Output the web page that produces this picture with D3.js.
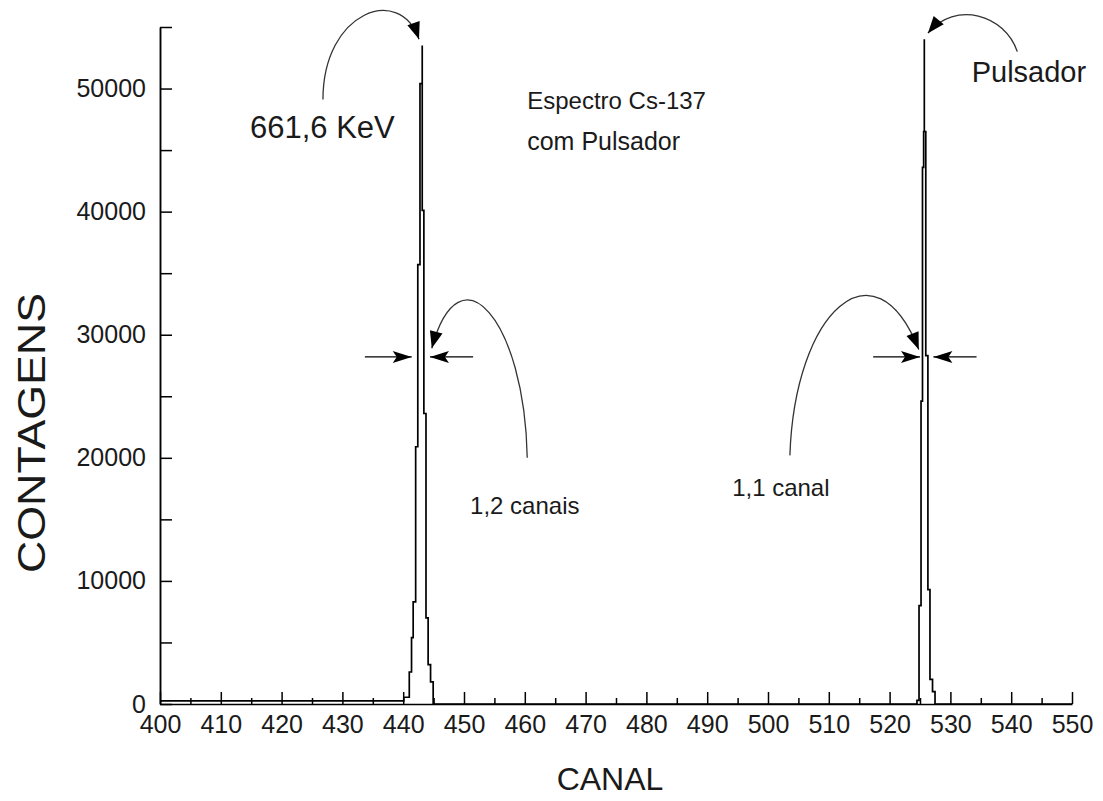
<!DOCTYPE html>
<meta charset="utf-8">
<head>
	<title>Espectro Cs-137 com Pulsador</title>
</head>

<style>
	body { margin: 0; background: #fff; }
	svg text { font-family: "Liberation Sans", Arial, sans-serif; fill: #1a1a1a; }
	.axis path, .axis line { stroke: #000; stroke-width: 1.5; }
	.axis text { font-size: 25px; }
</style>

<body>
	<svg width="1103" height="801"></svg>

	<script src="https://d3js.org/d3.v7.min.js"></script>
	<script>
// channel ticks and count ticks
var xTicks = [400, 410, 420, 430, 440, 450, 460, 470, 480, 490, 500, 510, 520, 530, 540, 550];
var xMinor = [405, 415, 425, 435, 445, 455, 465, 475, 485, 495, 505, 515, 525, 535, 545];
var yTicks = [0, 10000, 20000, 30000, 40000, 50000];
var yMinor = [5000, 15000, 25000, 35000, 45000, 55000];

// spectrum drawn as steps: each count holds from its channel to the next one
var canal = [400, 440.1, 441.0, 441.37, 441.64, 442.05, 442.4, 442.76, 443.13, 443.13, 443.4, 443.75, 444.1, 444.5, 444.93,
	524.5, 524.84, 525.17, 525.41, 525.6, 525.71, 525.71, 525.95, 526.3, 526.64, 527.06, 527.47, 550];
var contagens = [250, 550, 2600, 5400, 8300, 20900, 35700, 50400, 53500, 40100, 23600, 7000, 3200, 1800, 0,
	300, 8000, 24600, 43600, 46500, 54000, 46500, 28300, 9300, 2000, 1000, 0, 0];

var width = 1103, height = 801;
var margin = {left: 160, right: 31, top: 27, bottom: 97};

var svg = d3.select('svg');

var x = d3.scaleLinear().domain([400, 550]).range([margin.left, width - margin.right]);
var y = d3.scaleLinear().domain([0, 55000]).range([height - margin.bottom, margin.top]);

// arrow heads
var defs = svg.append('defs');
defs.append('marker')
	.attr('id', 'head')
	.attr('markerUnits', 'userSpaceOnUse')
	.attr('markerWidth', 40).attr('markerHeight', 40)
	.attr('orient', 'auto')
	.attr('style', 'overflow:visible')
  .append('path')
	.attr('d', 'M0,0 L-17,-6.5 L-17,6.5 Z')
	.attr('fill', '#000');
defs.append('marker')
	.attr('id', 'flat')
	.attr('markerUnits', 'userSpaceOnUse')
	.attr('markerWidth', 40).attr('markerHeight', 40)
	.attr('orient', 'auto')
	.attr('style', 'overflow:visible')
  .append('path')
	.attr('d', 'M0,0 L-19,-6 L-15,0 L-19,6 Z')
	.attr('fill', '#000');

// axes, ticks pointing inwards
svg.append('g')
	.attr('class', 'axis')
	.attr('transform', 'translate(0,' + y(0) + ')')
	.call(d3.axisBottom(x).tickValues(xTicks).tickSizeInner(-12).tickSizeOuter(0).tickPadding(11).tickFormat(d3.format('d')));
svg.append('g')
	.attr('class', 'axis')
	.attr('transform', 'translate(0,' + y(0) + ')')
	.call(d3.axisBottom(x).tickValues(xMinor).tickSizeInner(-6).tickSizeOuter(0).tickFormat(''))
	.select('.domain').remove();

svg.append('g')
	.attr('class', 'axis')
	.attr('transform', 'translate(' + x(400) + ',0)')
	.call(d3.axisLeft(y).tickValues(yTicks).tickSizeInner(-12).tickSizeOuter(0).tickPadding(14).tickFormat(d3.format('d')));
svg.append('g')
	.attr('class', 'axis')
	.attr('transform', 'translate(' + x(400) + ',0)')
	.call(d3.axisLeft(y).tickValues(yMinor).tickSizeInner(-12).tickSizeOuter(0).tickFormat(''));

// axis titles
svg.append('text')
	.attr('x', 610)
	.attr('y', 790)
	.attr('text-anchor', 'middle')
	.style('font-size', '32px')
	.text('CANAL');
svg.append('text')
	.attr('transform', 'translate(45,433) rotate(-90)')
	.attr('text-anchor', 'middle')
	.attr('textLength', 280)
	.attr('lengthAdjust', 'spacingAndGlyphs')
	.style('font-size', '38px')
	.text('CONTAGENS');

// spectrum
var pts = canal.map(function(c, i) {return [c, contagens[i]];});
svg.append('path')
	.datum(pts)
	.attr('fill', 'none')
	.attr('stroke', '#000')
	.attr('stroke-width', 1.7)
	.attr('d', d3.line()
		.x(function(d) {return x(d[0]);})
		.y(function(d) {return y(d[1]);})
		.curve(d3.curveStepAfter));

// annotations, placed in (channel, counts)
var curvas = [
	[[426.8, 49100], [426.8, 56300], [439.5, 58500], [442.6, 54000]],
	[[541.0, 53000], [539.0, 56000], [530.8, 57200], [526.3, 54500]],
	[[460.4, 20000], [460.0, 31200], [449.3, 37300], [444.7, 28900]],
	[[503.6, 20200], [504.4, 32000], [517.6, 37800], [524.8, 28800]]
];
curvas.forEach(function(c) {
	var p = c.map(function(d) {return [x(d[0]), y(d[1])];});
	svg.append('path')
		.attr('d', 'M' + p[0] + 'C' + p[1] + ' ' + p[2] + ' ' + p[3])
		.attr('fill', 'none')
		.attr('stroke', '#333')
		.attr('stroke-width', 1.3)
		.attr('marker-end', 'url(#head)');
});

var largura = [
	[433.7, 441.4], [451.5, 444.4],
	[517.3, 525.0], [534.3, 527.2]
];
largura.forEach(function(l) {
	svg.append('line')
		.attr('x1', x(l[0])).attr('x2', x(l[1]))
		.attr('y1', y(28200)).attr('y2', y(28200))
		.attr('stroke', '#000')
		.attr('stroke-width', 1.4)
		.attr('marker-end', 'url(#flat)');
});

var textos = [
	['661,6 KeV', 414.8, 46000, 31],
	['Espectro Cs-137', 460.4, 48300, 24],
	['com Pulsador', 460.4, 45000, 25],
	['Pulsador', 533.5, 50500, 29],
	['1,2 canais', 451.0, 15400, 24],
	['1,1 canal', 494.1, 16900, 24]
];
textos.forEach(function(t) {
	svg.append('text')
		.attr('x', x(t[1]))
		.attr('y', y(t[2]))
		.style('font-size', t[3] + 'px')
		.text(t[0]);
});
	</script>
</body>
</html>
